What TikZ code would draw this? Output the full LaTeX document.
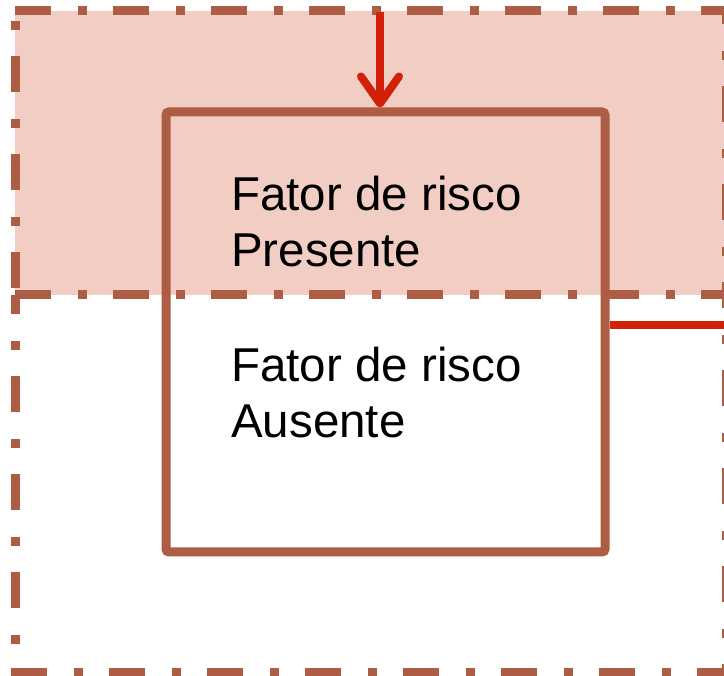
\documentclass[tikz,border=0pt]{standalone}
\usepackage{fontspec}
\setmainfont{Liberation Sans}
\usetikzlibrary{arrows.meta}
\definecolor{brownline}{RGB}{173,93,67}
\definecolor{pinkfill}{RGB}{242,205,196}
\definecolor{redline}{RGB}{210,33,8}
\tikzset{
  dashdot/.style={draw=brownline, line width=9pt, line cap=butt, dash pattern=on 36pt off 27pt on 9pt off 26pt},
  mainbox/.style={draw=brownline, line width=9pt, rounded corners=3pt, minimum width=439pt, minimum height=440pt, inner sep=0pt},
  label/.style={anchor=base west, align=left, inner sep=0pt, font=\fontsize{47.5}{56}\selectfont},
  redconn/.style={draw=redline, line width=8pt},
}
\begin{document}
\begin{tikzpicture}[x=1pt,y=-1pt]
\useasboundingbox (0,0) rectangle (724,676);
% pink upper region
\fill[pinkfill] (15,11) rectangle (726,295);
% upper dash-dot frame
\draw[dashdot] (15,11) -- (726,11);
\draw[dashdot, dash phase=53pt] (15,11) -- (15,295);
\draw[dashdot, dash phase=23pt] (726,11) -- (726,295);
% lower dash-dot frame
\draw[dashdot, dash phase=17pt] (15,295) -- (15,672);
\draw[dashdot, dash phase=23pt] (726,295) -- (726,672);
\draw[dashdot] (11,672) -- (726,672);
\draw[dashdot] (15,295) -- (726,295);
% main box
\node[mainbox] (box) at (385.5,332) {};
% texts (base anchor = baseline of last line)
\node[label] (presente) at (231,267) {Fator de risco\\Presente};
\node[label] (ausente) at (231,438) {Fator de risco\\Ausente};
% connectors
\coordinate (topin) at (380,12);
\coordinate (rightout) at (724,325);
\draw[redconn, -{Straight Barb[length=27pt,width=38pt,round]}] (topin) -- (topin |- box.north);
\draw[redconn] (box.east |- rightout) -- (rightout);
\end{tikzpicture}
\end{document}
